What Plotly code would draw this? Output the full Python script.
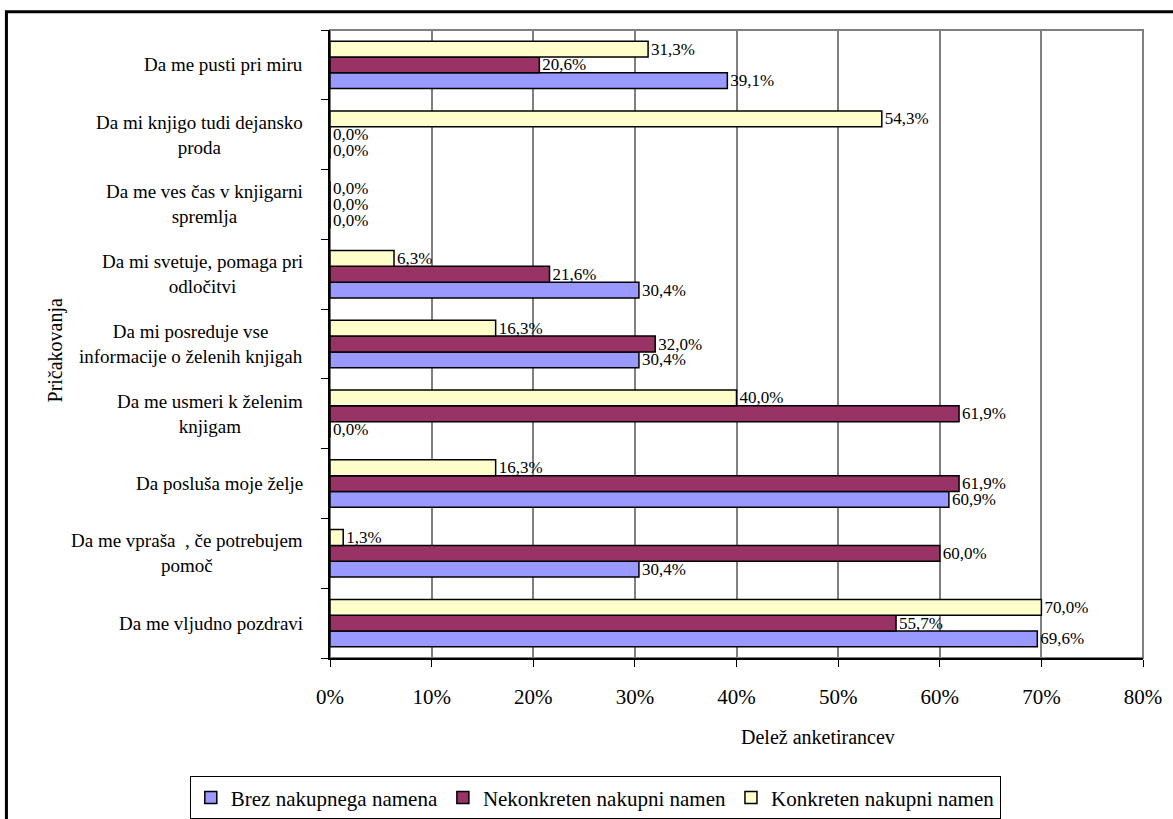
import plotly.graph_objects as go

# Categories listed top-to-bottom as in the reference
categories = [
    "Da me pusti pri miru",
    "Da mi knjigo tudi dejansko<br>proda",
    "Da me ves čas v knjigarni<br>spremlja",
    "Da mi svetuje, pomaga pri<br>odločitvi",
    "Da mi posreduje vse<br>informacije o želenih knjigah",
    "Da me usmeri k želenim<br>knjigam",
    "Da posluša moje želje",
    "Da me vpraša  , če potrebujem<br>pomoč",
    "Da me vljudno pozdravi",
]
brez = [39.1, 0.0, 0.0, 30.4, 30.4, 0.0, 60.9, 30.4, 69.6]
nekonkreten = [20.6, 0.0, 0.0, 21.6, 32.0, 61.9, 61.9, 60.0, 55.7]
konkreten = [31.3, 54.3, 0.0, 6.3, 16.3, 40.0, 16.3, 1.3, 70.0]

series = [
    ("Brez nakupnega namena", brez, "#9999FF"),
    ("Nekonkreten nakupni namen", nekonkreten, "#993366"),
    ("Konkreten nakupni namen", konkreten, "#FFFFCC"),
]
x_ticks = [0, 10, 20, 30, 40, 50, 60, 70, 80]
x_ticklabels = ["0%", "10%", "20%", "30%", "40%", "50%", "60%", "70%", "80%"]

SERIF = "Liberation Serif"
cats_bt = categories[::-1]

fig = go.Figure()
for name, vals, color in series:
    fig.add_trace(go.Bar(
        y=cats_bt, x=vals[::-1], name=name, orientation="h",
        marker=dict(color=color, line=dict(color="black", width=1.5)),
        texttemplate="%{x:.1f}%", textposition="outside",
        constraintext="none", cliponaxis=False,
        textfont=dict(family=SERIF, size=17, color="black"),
    ))

annotations = []
for c in categories:
    annotations.append(dict(
        x=-0.031, xref="paper", y=c, yref="y", text=c, showarrow=False,
        xanchor="right", yanchor="middle", align="center",
        font=dict(family=SERIF, size=19, color="black"),
    ))
annotations.append(dict(
    x=-0.338, xref="paper", y=0.49, yref="paper", text="Pričakovanja",
    textangle=-90, showarrow=False, xanchor="center", yanchor="middle",
    font=dict(family=SERIF, size=20, color="black"),
))
annotations.append(dict(
    x=0.6, xref="paper", y=-0.125, yref="paper", text="Delež anketirancev",
    showarrow=False, xanchor="center", yanchor="middle",
    font=dict(family=SERIF, size=20, color="black"),
))

shapes = [
    # plot area border (gray)
    dict(type="rect", xref="paper", yref="paper", x0=0, x1=1, y0=0, y1=1,
         line=dict(color="#808080", width=2), layer="below"),
    # outer chart frame
    dict(type="rect", xref="paper", yref="paper", x0=-0.398, x1=1.08,
         y0=-0.3, y1=1.029, line=dict(color="black", width=3)),
]

fig.update_layout(
    width=1173, height=819,
    margin=dict(l=330, r=30, t=30, b=161),
    paper_bgcolor="white", plot_bgcolor="white",
    barmode="group", bargap=0.32, bargroupgap=0,
    separators=", ",
    font=dict(family=SERIF, color="black"),
    xaxis=dict(
        range=[0, 80], tickvals=x_ticks, ticktext=x_ticklabels,
        showgrid=True, gridcolor="#808080", gridwidth=1.5,
        showline=True, linecolor="black", linewidth=1.5,
        ticks="outside", ticklen=7, tickcolor="black",
        tickfont=dict(family=SERIF, size=21),
        ticklabelstandoff=12,
        zeroline=False, automargin=False,
    ),
    yaxis=dict(
        showticklabels=False, showgrid=False,
        showline=True, linecolor="black", linewidth=1.5,
        ticks="outside", ticklen=7, tickcolor="black", tickson="boundaries",
        categoryorder="array", categoryarray=cats_bt, automargin=False,
    ),
    legend=dict(
        orientation="h", x=0.5075, xref="container", xanchor="center",
        y=0.052, yref="container", yanchor="top",
        bordercolor="black", borderwidth=1, bgcolor="white",
        font=dict(family=SERIF, size=21), itemwidth=30,
        traceorder="normal", tracegroupgap=0,
    ),
    showlegend=True,
    annotations=annotations,
    shapes=shapes,
)

fig.write_html("out.html")
